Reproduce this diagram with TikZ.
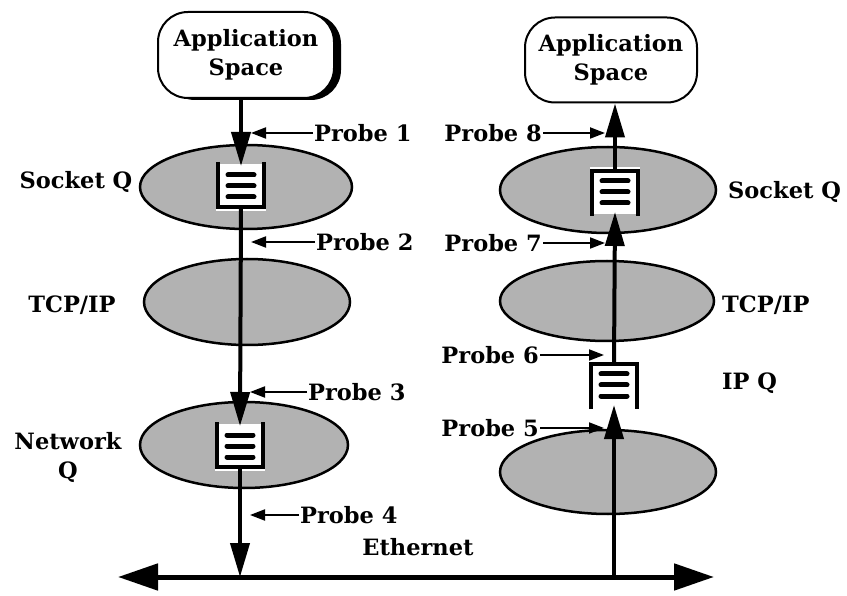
\documentclass[tikz,border=0pt]{standalone}
\usepackage{fontspec}
\setmainfont{DejaVu Serif}
\usetikzlibrary{arrows.meta,shapes.geometric,shadows}

\begin{document}
\begin{tikzpicture}[x=1pt,y=-1pt,
		lbl/.style={font=\fontsize{22.5}{29}\selectfont\bfseries, inner sep=1pt},
		appbox/.style={draw, line width=2pt, rounded corners=30pt, fill=white, lbl, align=center},
		layer/.style={ellipse, draw, line width=2.5pt, fill=black!30, inner sep=0pt},
		flow/.style={line width=4pt, -{Triangle[length=34pt,width=19pt]}},
		probearrow/.style={line width=2pt, -{Triangle[length=15pt,width=11pt]}},
		queue/.pic={
			\fill[white] (-25,-22) rectangle (25,25);
			\draw[line width=4.5pt] (-23,-24) -- (-23,21) -- (23,21) -- (23,-24);
			\foreach \y in {-11,0,11}
				\draw[line width=5pt, line cap=round] (-13,\y) -- (13,\y);
			\coordinate (-in) at (0,-20);
			\coordinate (-out) at (0,21);
		}]
		\useasboundingbox (0,0) rectangle (847,596);
		
		% 应用层
		\node[appbox, minimum width=176, minimum height=86,
			drop shadow={shadow xshift=7pt, shadow yshift=-2pt, fill=black, opacity=1}]
			(appL) at (246,55) {Application\\Space};
		\node[appbox, minimum width=172, minimum height=85] (appR) at (611,60) {Application\\Space};
		
		% 协议层
		\node[layer, minimum width=212, minimum height=84] (sockL) at (246,187) {};
		\node[layer, minimum width=206, minimum height=86] (tcpL) at (247,302) {};
		\node[layer, minimum width=208, minimum height=86] (netL) at (244,445) {};
		\node[layer, minimum width=216, minimum height=86] (sockR) at (608,190) {};
		\node[layer, minimum width=214, minimum height=80] (tcpR) at (607,301) {};
		\node[layer, minimum width=216, minimum height=84] (lowR) at (608,472) {};
		
		% 队列
		\pic (qS) at (241,186) {queue};
		\pic (qN) at (240,446) {queue};
		\pic[yscale=-1] (qR) at (615,192) {queue};
		\pic[yscale=-1] (qI) at (614,385) {queue};
		
		% 以太网
		\coordinate (busL) at (118,577);
		\coordinate (busR) at (714,577);
		\draw[line width=5pt, {Triangle[length=40pt,width=26pt]}-{Triangle[length=40pt,width=26pt]}] (busL) -- (busR);
		\node[lbl] (eth) at (418,547) {Ethernet};
		
		% 发送方向
		\draw[flow] (qS-in |- appL.south) -- (qS-in);
		\draw[flow] (qS-out) -- (qN-in);
		\draw[flow] (qN-out) -- (qN-out |- busL);
		
		% 接收方向
		\draw[flow] (qI-in |- busL) -- (qI-in);
		\draw[flow] (qI-out) -- (qR-in);
		\draw[flow] (qR-out) -- (qR-out |- appR.south);
		
		% 层名称
		\node[lbl] (sockLtxt) at (76,182) {Socket Q};
		\node[lbl] (tcpLtxt) at (72,305) {TCP/IP};
		\node[lbl, align=center] (netLtxt) at (68,457) {Network\\Q};
		\node[lbl, anchor=west] (sockRtxt) at (727,192) {Socket Q};
		\node[lbl, anchor=west] (tcpRtxt) at (721,305) {TCP/IP};
		\node[lbl, anchor=west] (ipqtxt) at (721,383) {IP Q};
		
		% 探针
		\node[lbl, anchor=west] (p1) at (313,133) {Probe 1};
		\node[lbl, anchor=west] (p2) at (315,242) {Probe 2};
		\node[lbl, anchor=west] (p3) at (307,392) {Probe 3};
		\node[lbl, anchor=west] (p4) at (299,515) {Probe 4};
		\node[lbl, anchor=east] (p5) at (540,428) {Probe 5};
		\node[lbl, anchor=east] (p6) at (540,355) {Probe 6};
		\node[lbl, anchor=east] (p7) at (543,243) {Probe 7};
		\node[lbl, anchor=east] (p8) at (543,133) {Probe 8};
		\foreach \p/\q in {p1/qS, p2/qS, p3/qN, p4/qN}
			\draw[probearrow] (\p.west) -- ([xshift=10pt]\p.west -| \q-in);
		\foreach \p/\q in {p5/qI, p6/qI, p7/qR, p8/qR}
			\draw[probearrow] (\p.east) -- ([xshift=-10pt]\p.east -| \q-in);
	\end{tikzpicture}
\end{document}
